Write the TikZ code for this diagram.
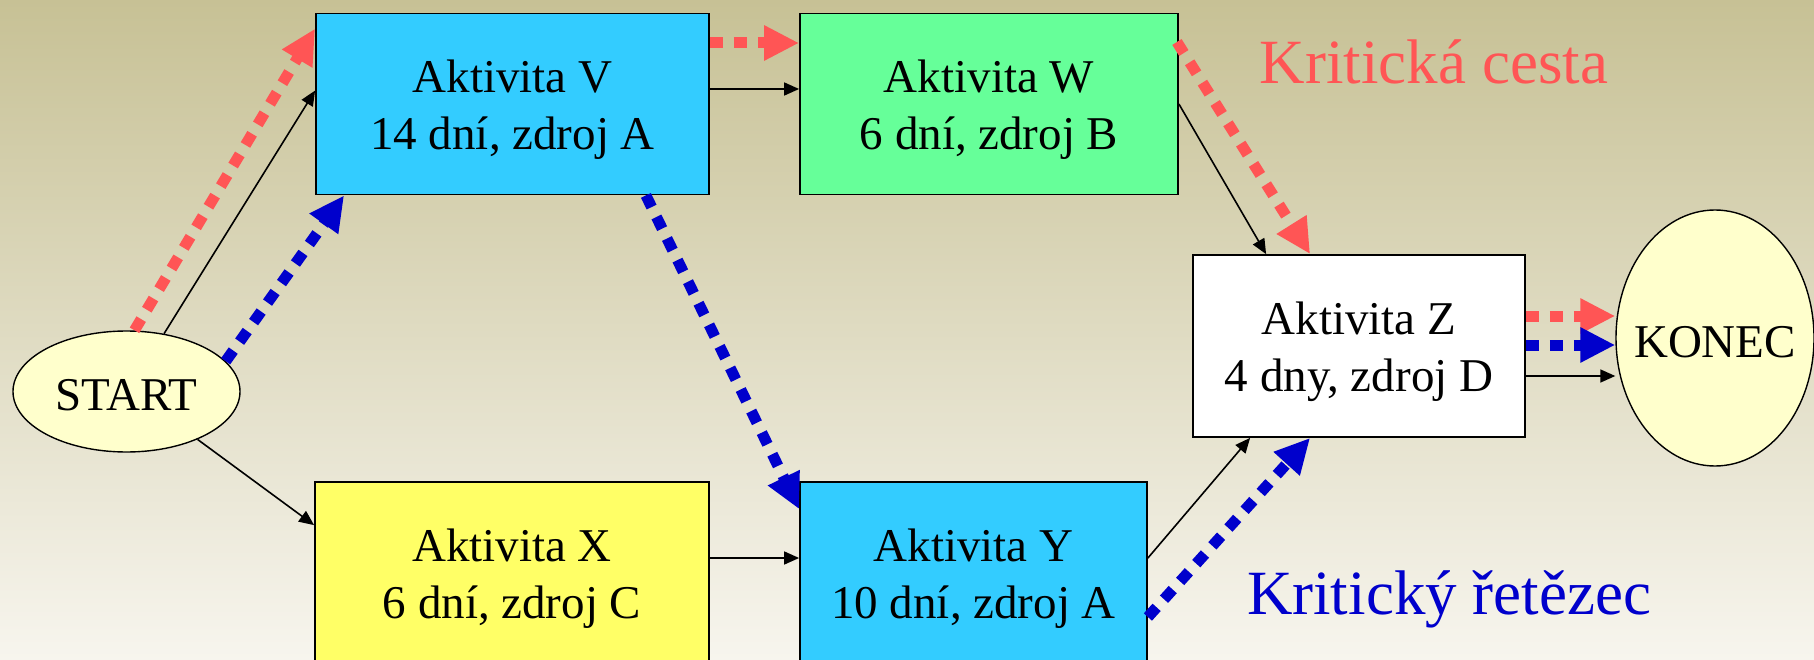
\documentclass[tikz,border=0pt]{standalone}
\usepackage{fontspec}
\setmainfont{Liberation Serif}
\usetikzlibrary{arrows.meta,shapes.geometric,calc}
\definecolor{crit}{RGB}{255,85,85}
\definecolor{chain}{RGB}{0,0,204}
\definecolor{cyanbox}{RGB}{51,204,255}
\definecolor{greenbox}{RGB}{102,255,153}
\definecolor{yellowbox}{RGB}{255,255,102}
\definecolor{creme}{RGB}{255,255,204}
\definecolor{bgtop}{RGB}{199,193,149}
\definecolor{bgbot}{RGB}{247,245,238}
\newcommand{\boxtext}[2]{\raisebox{-6pt}[\height][\depth]{\begin{tabular}{@{}c@{}}#1\\#2\end{tabular}}}
\newcommand{\ovaltext}[1]{\raisebox{-4pt}[\height][\depth]{#1}}
\tikzset{
  actbox/.style={draw=black, line width=1.8pt, rectangle, inner sep=0pt,
    font=\fontsize{47}{57}\selectfont},
  oval/.style={draw=black, line width=1.4pt, ellipse, fill=creme, inner sep=0pt,
    inner xsep=-40pt, font=\fontsize{47}{57}\selectfont},
  flow/.style={line width=1.6pt, -{Triangle[length=15pt,width=13pt]}},
  dotflow/.style={line width=11pt, dash pattern=on 13pt off 11pt,
    -{Triangle[length=35pt,width=33pt]}},
  critpath/.style={dotflow, draw=crit},
  critchain/.style={dotflow, draw=chain},
  legend/.style={anchor=base, inner sep=0pt, font=\fontsize{63}{63}\selectfont}
}
\begin{document}
\begin{tikzpicture}[x=1pt,y=-1pt]
\useasboundingbox (0,0) rectangle (1814,660);
\fill[top color=bgtop, bottom color=bgbot] (0,0) rectangle (1814,660);
\clip (0,0) rectangle (1814,660);

% nodes
\node[actbox, fill=cyanbox, minimum width=393pt, minimum height=181pt] (V) at (512.5,104) {\boxtext{Aktivita V}{14 dní, zdroj A}};
\node[actbox, fill=greenbox, minimum width=378pt, minimum height=181pt] (W) at (989,104) {\boxtext{Aktivita W}{6 dní, zdroj B}};
\node[actbox, fill=white, minimum width=332pt, minimum height=182pt] (Z) at (1359,346) {\boxtext{Aktivita Z}{4 dny, zdroj D}};
\node[actbox, fill=yellowbox, minimum width=394pt, minimum height=182pt] (X) at (512,573) {\boxtext{Aktivita X}{6 dní, zdroj C}};
\node[actbox, fill=cyanbox, minimum width=347pt, minimum height=182pt] (Y) at (973.5,573) {\boxtext{Aktivita Y}{10 dní, zdroj A}};
\node[oval, minimum width=227pt, minimum height=121pt] (START) at (126.5,391.5) {\ovaltext{START}};
\node[oval, minimum width=198pt, minimum height=256pt] (KONEC) at (1715,338) {\ovaltext{KONEC}};

% legends
\node[legend, text=crit] (lcp) at (1434,84) {Kritická cesta};
\node[legend, text=chain] (lcc) at (1449,614) {Kritický řetězec};

% plain dependencies
\draw[flow] (START.57) -- ($(V.north west)+(0,78)$);
\draw[flow] (START.-34) -- ($(X.north west)+(0,44)$);
\draw[flow] ($(V.east)+(0,-15)$) -- ($(W.west)+(0,-15)$);
\draw[flow] ($(X.east)+(0,-15)$) -- ($(Y.west)+(0,-15)$);
\draw[flow] (W.east) -- ($(Z.north west)+(74,0)$);
\draw[flow] ($(Y.east)+(0,-15)$) -- ($(Z.south west)+(58,0)$);
\coordinate (zk) at ($(Z.east)+(0,30)$);
\draw[flow] (zk) -- (zk -| KONEC.west);

% critical path
\draw[critpath] ($(START.north)+(8,0)$) -- ($(V.north west)+(0,16)$);
\draw[critpath] ($(V.east)+(0,-61)$) -- ($(W.west)+(0,-61)$);
\draw[critpath] ($(W.east)+(-2,-62)$) -- ($(Z.north west)+(118,0)$);
\coordinate (zc) at ($(Z.east)+(0,-30)$);
\draw[critpath] (zc) -- (zc -| KONEC.west);

% critical chain
\draw[critchain] (START.17) -- ($(V.south west)+(29,0)$);
\draw[critchain] ($(V.south east)+(-64,0)$) -- ($(Y.north west)+(0,28)$);
\draw[critchain] ($(Y.east)+(0,44)$) -- ($(Z.south west)+(118,0)$);
\coordinate (zb) at ($(Z.east)+(0,-1)$);
\draw[critchain] (zb) -- (zb -| KONEC.west);
\end{tikzpicture}
\end{document}
